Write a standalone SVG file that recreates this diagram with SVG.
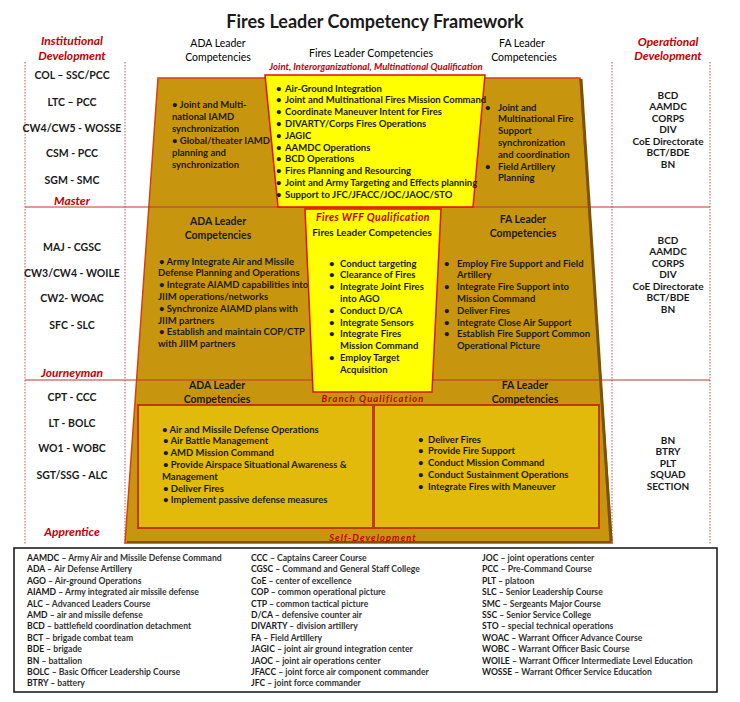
<svg xmlns="http://www.w3.org/2000/svg" width="740" height="702" viewBox="0 0 740 702">
<style>
text { font-family: Lato, "Liberation Sans", sans-serif; font-weight: bold; fill: #1a1a1a; font-size: 9.5px; }
.c { text-anchor: middle; }
.h { font-size: 10.5px; font-weight: normal; fill: #000; }
.hb { font-size: 10.5px; }
.r { fill: #C00000; font-style: italic; font-weight: bold; font-size: 12px; }
.rs { fill: #C00000; font-style: italic; font-weight: bold; font-size: 9.5px; }
.col { font-size: 10.5px; }
.op { font-size: 10px; }
.lg { font-size: 8.6px; }
.lg tspan.d { fill: #333; }
.dash { stroke: #C0504D; stroke-width: 1; stroke-dasharray: 1.5 1.5; fill: none; }
.div { stroke: #B83A30; stroke-width: 1; }
.yel { fill: #FFFF00; stroke: #E01000; stroke-width: 1.5; }
.inner { fill: #E2BA0C; stroke: #C03A00; stroke-width: 2; }
</style>

<text x="375" y="28" class="c" style="font-size:18px">Fires Leader Competency Framework</text>

<g id="columns">
  <line class="dash" x1="25" y1="62" x2="25" y2="545"/>
  <line class="dash" x1="125" y1="62" x2="125" y2="545"/>
  <line class="dash" x1="612" y1="62" x2="612" y2="545"/>
  <line class="dash" x1="710" y1="62" x2="710" y2="545"/>
</g>

<g id="pyramid">
  <polygon points="158,78 580,78 612,543 125,543" fill="#C8960E" stroke="#D84010" stroke-width="1.5"/>
  <line x1="581" y1="79" x2="611" y2="541" stroke="#7A5200" stroke-width="3"/>
  <line x1="127" y1="542" x2="611" y2="542" stroke="#7A5200" stroke-width="2"/>
</g>

<g id="dividers">
  <line class="div" x1="25" y1="207" x2="710" y2="207"/>
  <line class="div" x1="25" y1="380" x2="710" y2="380"/>
</g>

<g id="headers">
  <text x="72" y="45" class="r c">Institutional</text>
  <text x="72" y="60" class="r c">Development</text>
  <text x="668" y="46" class="r c">Operational</text>
  <text x="668" y="60" class="r c">Development</text>
  <text x="218" y="47" class="h c">ADA Leader</text>
  <text x="218" y="61" class="h c">Competencies</text>
  <text x="371" y="57" class="h c">Fires Leader Competencies</text>
  <text x="522" y="47" class="h c">FA Leader</text>
  <text x="524" y="61" class="h c">Competencies</text>
  <text x="376" y="70" class="rs c">Joint, Interorganizational, Multinational Qualification</text>
</g>

<g id="levels">
  <text x="72" y="205" class="r c">Master</text>
  <text x="72" y="377" class="r c">Journeyman</text>
  <text x="72" y="536" class="r c">Apprentice</text>
</g>

<g id="institutional">
  <text x="72" y="78.5" class="col c">COL – SSC/PCC</text>
  <text x="72" y="105.5" class="col c">LTC – PCC</text>
  <text x="72" y="131.5" class="col c">CW4/CW5 - WOSSE</text>
  <text x="72" y="156.5" class="col c">CSM - PCC</text>
  <text x="72" y="183.5" class="col c">SGM - SMC</text>
  <text x="72" y="250.5" class="col c">MAJ - CGSC</text>
  <text x="72" y="276.5" class="col c">CW3/CW4 - WOILE</text>
  <text x="72" y="301.5" class="col c">CW2- WOAC</text>
  <text x="72" y="328.5" class="col c">SFC - SLC</text>
  <text x="72" y="400.5" class="col c">CPT - CCC</text>
  <text x="72" y="426.5" class="col c">LT - BOLC</text>
  <text x="72" y="451.5" class="col c">WO1 - WOBC</text>
  <text x="72" y="478.5" class="col c">SGT/SSG - ALC</text>
</g>

<g id="operational">
  <text x="668" y="98.5" class="op c">BCD</text>
  <text x="668" y="110" class="op c">AAMDC</text>
  <text x="668" y="121.5" class="op c">CORPS</text>
  <text x="668" y="133" class="op c">DIV</text>
  <text x="668" y="144.5" class="op c">CoE Directorate</text>
  <text x="668" y="156" class="op c">BCT/BDE</text>
  <text x="668" y="167.5" class="op c">BN</text>
  <text x="668" y="243.5" class="op c">BCD</text>
  <text x="668" y="255" class="op c">AAMDC</text>
  <text x="668" y="266.5" class="op c">CORPS</text>
  <text x="668" y="278" class="op c">DIV</text>
  <text x="668" y="289.5" class="op c">CoE Directorate</text>
  <text x="668" y="301" class="op c">BCT/BDE</text>
  <text x="668" y="312.5" class="op c">BN</text>
  <text x="668" y="443.5" class="op c">BN</text>
  <text x="668" y="455" class="op c">BTRY</text>
  <text x="668" y="466.5" class="op c">PLT</text>
  <text x="668" y="478" class="op c">SQUAD</text>
  <text x="668" y="489.5" class="op c">SECTION</text>
</g>

<g id="top-ada">
  <text x="172" y="107.5">• Joint and Multi-</text>
  <text x="172" y="119.5">national IAMD</text>
  <text x="172" y="131.5">synchronization</text>
  <text x="172" y="143.5">• Global/theater IAMD</text>
  <text x="172" y="155.5">planning and</text>
  <text x="172" y="167.5">synchronization</text>
</g>

<g id="top-fires">
  <polygon class="yel" points="265,75 485,75 473,207 278,207"/>
  <text x="276" y="91.5">•</text><text x="285" y="91.5">Air-Ground Integration</text>
  <text x="276" y="103.3">•</text><text x="285" y="103.3">Joint and Multinational Fires Mission Command</text>
  <text x="276" y="115.1">•</text><text x="285" y="115.1">Coordinate Maneuver Intent for Fires</text>
  <text x="276" y="126.9">•</text><text x="285" y="126.9">DIVARTY/Corps Fires Operations</text>
  <text x="276" y="138.7">•</text><text x="285" y="138.7">JAGIC</text>
  <text x="276" y="150.5">•</text><text x="285" y="150.5">AAMDC Operations</text>
  <text x="276" y="162.3">•</text><text x="285" y="162.3">BCD Operations</text>
  <text x="276" y="174.1">•</text><text x="285" y="174.1">Fires Planning and Resourcing</text>
  <text x="276" y="185.9">•</text><text x="285" y="185.9">Joint and Army Targeting and Effects planning</text>
  <text x="276" y="197.7">•</text><text x="285" y="197.7">Support to JFC/JFACC/JOC/JAOC/STO</text>
</g>

<g id="top-fa">
  <text x="485" y="110.5">•</text><text x="498" y="110.5">Joint and</text>
  <text x="498" y="122.3">Multinational Fire</text>
  <text x="498" y="134.1">Support</text>
  <text x="498" y="145.9">synchronization</text>
  <text x="498" y="157.7">and coordination</text>
  <text x="485" y="169.5">•</text><text x="498" y="169.5">Field Artillery</text>
  <text x="498" y="181.3">Planning</text>
</g>

<g id="mid-ada">
  <text x="218" y="225" class="hb c">ADA Leader</text>
  <text x="218" y="238.5" class="hb c">Competencies</text>
  <text x="159" y="264.5">• Army Integrate Air and Missile</text>
  <text x="158" y="276.3">Defense Planning and Operations</text>
  <text x="159" y="288.1">• Integrate AIAMD capabilities into</text>
  <text x="158" y="299.9">JIIM operations/networks</text>
  <text x="159" y="311.7">• Synchronize AIAMD plans with</text>
  <text x="158" y="323.5">JIIM partners</text>
  <text x="159" y="335.3">• Establish and maintain COP/CTP</text>
  <text x="158" y="347.1">with JIIM partners</text>
</g>

<g id="mid-fires">
  <polygon class="yel" points="305,209 441,209 432,392 313,392"/>
  <text x="373" y="221" class="r c" style="font-size:10.5px;letter-spacing:0.4px">Fires WFF Qualification</text>
  <text x="372" y="236" class="hb c" style="font-size:10px">Fires Leader Competencies</text>
  <text x="329" y="266.5">•</text><text x="340" y="266.5">Conduct targeting</text>
  <text x="329" y="278.3">•</text><text x="340" y="278.3">Clearance of Fires</text>
  <text x="329" y="290.1">•</text><text x="340" y="290.1">Integrate Joint Fires</text>
  <text x="340" y="301.9">into AGO</text>
  <text x="329" y="313.7">•</text><text x="340" y="313.7">Conduct D/CA</text>
  <text x="329" y="325.5">•</text><text x="340" y="325.5">Integrate Sensors</text>
  <text x="329" y="337.3">•</text><text x="340" y="337.3">Integrate Fires</text>
  <text x="340" y="349.1">Mission Command</text>
  <text x="329" y="360.9">•</text><text x="340" y="360.9">Employ Target</text>
  <text x="340" y="372.7">Acquisition</text>
</g>

<g id="mid-fa">
  <text x="523" y="223" class="hb c">FA Leader</text>
  <text x="523" y="237" class="hb c">Competencies</text>
  <text x="444" y="266.5">•</text><text x="457" y="266.5">Employ Fire Support and Field</text>
  <text x="457" y="278.3">Artillery</text>
  <text x="444" y="290.1">•</text><text x="457" y="290.1">Integrate Fire Support into</text>
  <text x="457" y="301.9">Mission Command</text>
  <text x="444" y="313.7">•</text><text x="457" y="313.7">Deliver Fires</text>
  <text x="444" y="325.5">•</text><text x="457" y="325.5">Integrate Close Air Support</text>
  <text x="444" y="337.3">•</text><text x="457" y="337.3">Establish Fire Support Common</text>
  <text x="457" y="349.1">Operational Picture</text>
</g>

<g id="branch">
  <text x="217" y="388.5" class="hb c">ADA Leader</text>
  <text x="217" y="402.5" class="hb c">Competencies</text>
  <text x="373" y="402" class="rs c" style="letter-spacing:1px">Branch Qualification</text>
  <text x="525" y="388.5" class="hb c">FA Leader</text>
  <text x="525" y="402.5" class="hb c">Competencies</text>
</g>

<g id="bottom-ada">
  <rect class="inner" x="138" y="405" width="235" height="123"/>
  <text x="162" y="432.5">• Air and Missile Defense Operations</text>
  <text x="163" y="444.3">• Air Battle Management</text>
  <text x="163" y="456.1">• AMD Mission Command</text>
  <text x="163" y="467.9">• Provide Airspace Situational Awareness &amp;</text>
  <text x="162" y="479.7">Management</text>
  <text x="163" y="491.5">• Deliver Fires</text>
  <text x="163" y="503.3">• Implement passive defense measures</text>
</g>

<g id="bottom-fa">
  <rect class="inner" x="374" y="405" width="225" height="123"/>
  <text x="418" y="442.5">•</text><text x="428" y="442.5">Deliver Fires</text>
  <text x="418" y="454.3">•</text><text x="428" y="454.3">Provide Fire Support</text>
  <text x="418" y="466.1">•</text><text x="428" y="466.1">Conduct Mission Command</text>
  <text x="418" y="477.9">•</text><text x="428" y="477.9">Conduct Sustainment Operations</text>
  <text x="418" y="489.7">•</text><text x="428" y="489.7">Integrate Fires with Maneuver</text>
</g>

<text x="373" y="541" class="rs c" style="letter-spacing:1px">Self-Development</text>

<g id="legend">
  <rect x="14" y="548" width="703" height="144" fill="#fff" stroke="#111" stroke-width="1.5"/>
  <g class="lg">
    <text class="lg" x="27" y="561">AAMDC <tspan class="d">– Army Air and Missile Defense Command</tspan></text>
    <text class="lg" x="27" y="572.4">ADA <tspan class="d">– Air Defense Artillery</tspan></text>
    <text class="lg" x="27" y="583.8">AGO <tspan class="d">– Air-ground Operations</tspan></text>
    <text class="lg" x="27" y="595.2">AIAMD <tspan class="d">– Army integrated air missile defense</tspan></text>
    <text class="lg" x="27" y="606.6">ALC <tspan class="d">– Advanced Leaders Course</tspan></text>
    <text class="lg" x="27" y="618">AMD <tspan class="d">– air and missile defense</tspan></text>
    <text class="lg" x="27" y="629.4">BCD <tspan class="d">– battlefield coordination detachment</tspan></text>
    <text class="lg" x="27" y="640.8">BCT <tspan class="d">– brigade combat team</tspan></text>
    <text class="lg" x="27" y="652.2">BDE <tspan class="d">– brigade</tspan></text>
    <text class="lg" x="27" y="663.6">BN <tspan class="d">– battalion</tspan></text>
    <text class="lg" x="27" y="675">BOLC <tspan class="d">– Basic Officer Leadership Course</tspan></text>
    <text class="lg" x="27" y="686.4">BTRY <tspan class="d">– battery</tspan></text>

    <text class="lg" x="251" y="561">CCC <tspan class="d">– Captains Career Course</tspan></text>
    <text class="lg" x="251" y="572.4">CGSC <tspan class="d">– Command and General Staff College</tspan></text>
    <text class="lg" x="251" y="583.8">CoE <tspan class="d">– center of excellence</tspan></text>
    <text class="lg" x="251" y="595.2">COP <tspan class="d">– common operational picture</tspan></text>
    <text class="lg" x="251" y="606.6">CTP <tspan class="d">– common tactical picture</tspan></text>
    <text class="lg" x="251" y="618">D/CA <tspan class="d">– defensive counter air</tspan></text>
    <text class="lg" x="251" y="629.4">DIVARTY <tspan class="d">– division artillery</tspan></text>
    <text class="lg" x="251" y="640.8">FA <tspan class="d">– Field Artillery</tspan></text>
    <text class="lg" x="251" y="652.2">JAGIC <tspan class="d">– joint air ground integration center</tspan></text>
    <text class="lg" x="251" y="663.6">JAOC <tspan class="d">– joint air operations center</tspan></text>
    <text class="lg" x="251" y="675">JFACC <tspan class="d">– joint force air component commander</tspan></text>
    <text class="lg" x="251" y="686.4">JFC <tspan class="d">– joint force commander</tspan></text>

    <text class="lg" x="482" y="561">JOC <tspan class="d">– joint operations center</tspan></text>
    <text class="lg" x="482" y="572.4">PCC <tspan class="d">– Pre-Command Course</tspan></text>
    <text class="lg" x="482" y="583.8">PLT <tspan class="d">– platoon</tspan></text>
    <text class="lg" x="482" y="595.2">SLC <tspan class="d">– Senior Leadership Course</tspan></text>
    <text class="lg" x="482" y="606.6">SMC <tspan class="d">– Sergeants Major Course</tspan></text>
    <text class="lg" x="482" y="618">SSC <tspan class="d">– Senior Service College</tspan></text>
    <text class="lg" x="482" y="629.4">STO <tspan class="d">– special technical operations</tspan></text>
    <text class="lg" x="482" y="640.8">WOAC <tspan class="d">– Warrant Officer Advance Course</tspan></text>
    <text class="lg" x="482" y="652.2">WOBC <tspan class="d">– Warrant Officer Basic Course</tspan></text>
    <text class="lg" x="482" y="663.6">WOILE <tspan class="d">– Warrant Officer Intermediate Level Education</tspan></text>
    <text class="lg" x="482" y="675">WOSSE <tspan class="d">– Warrant Officer Service Education</tspan></text>
  </g>
</g>
</svg>
